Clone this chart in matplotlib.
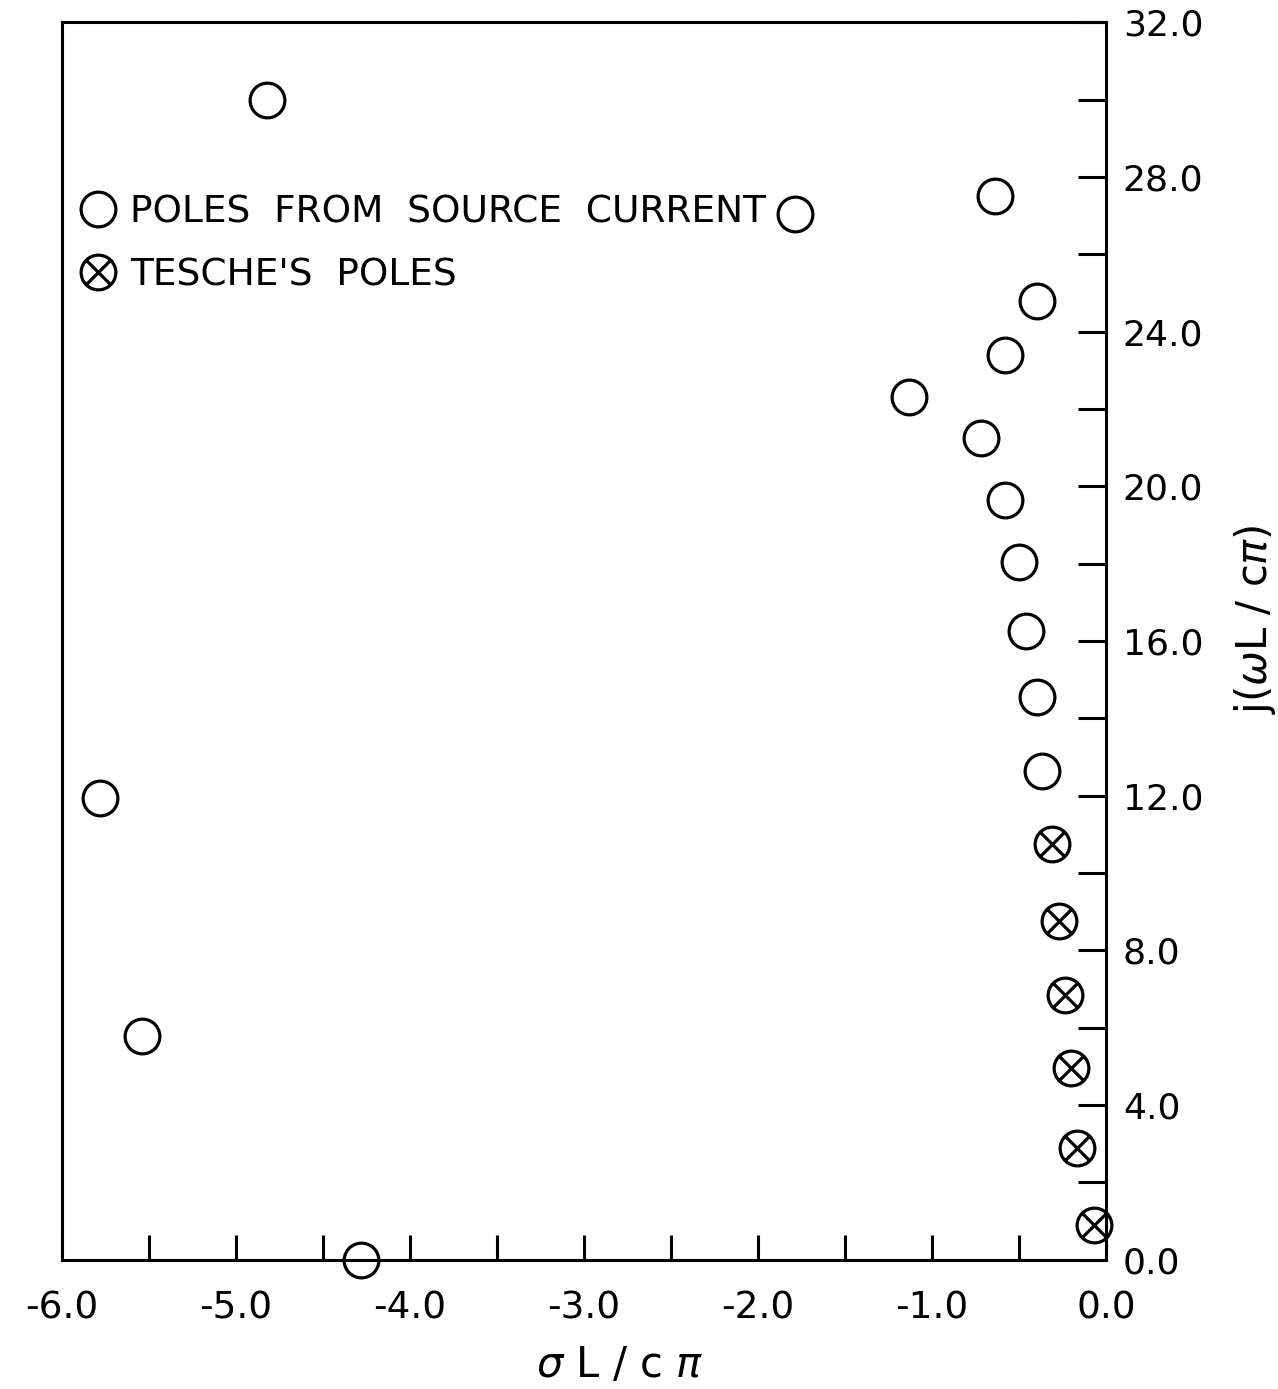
import matplotlib.pyplot as plt
from matplotlib.lines import Line2D
from matplotlib.path import Path

# poles found from the source current (open circles)
SRC_SIGMA = [-4.82, -1.79, -0.64, -0.40, -0.58, -1.13, -0.72, -0.58, -0.50, -0.46,
             -0.40, -0.37, -5.78, -5.54, -4.28]
SRC_OMEGA = [30.0, 27.05, 27.5, 24.8, 23.4, 22.3, 21.25, 19.65, 18.05, 16.25,
             14.55, 12.65, 11.95, 5.8, 0.0]

# Tesche's poles (crossed circles)
TES_SIGMA = [-0.31, -0.27, -0.235, -0.20, -0.165, -0.07]
TES_OMEGA = [10.75, 8.75, 6.85, 4.95, 2.9, 0.9]

X_TICKS = [-6.0, -5.0, -4.0, -3.0, -2.0, -1.0, 0.0]
X_MINOR = [-5.5, -4.5, -3.5, -2.5, -1.5, -0.5]
Y_TICKS = [0, 2, 4, 6, 8, 10, 12, 14, 16, 18, 20, 22, 24, 26, 28, 30, 32]

plt.rcParams["font.family"] = ["DejaVu Sans"]
plt.rcParams["mathtext.fontset"] = "dejavusans"

# circle with an x through it
d = 0.7071
OTIMES = Path.make_compound_path(
    Path.unit_circle(),
    Path([[-d, -d], [d, d]], [Path.MOVETO, Path.LINETO]),
    Path([[-d, d], [d, -d]], [Path.MOVETO, Path.LINETO]),
)

MS = 25
MEW = 2.3

fig = plt.figure(figsize=(12.78, 13.89), dpi=100)
fig.patch.set_facecolor("white")
ax = fig.add_axes([0.0485, 0.093, 0.817, 0.891])

ax.plot(SRC_SIGMA, SRC_OMEGA, linestyle="none", marker="o", ms=MS, mew=MEW,
        mfc="none", mec="black", clip_on=False, zorder=3)
ax.plot(TES_SIGMA, TES_OMEGA, linestyle="none", marker=OTIMES, ms=MS, mew=MEW,
        mfc="none", mec="black", clip_on=False, zorder=3)

ax.set_xlim(-6.0, 0.0)
ax.set_ylim(0.0, 32.0)

for s in ax.spines.values():
    s.set_linewidth(2.2)

# x axis: ticks every 0.5, pointing inward
ax.set_xticks(X_TICKS)
ax.set_xticks(X_MINOR, minor=True)
ax.set_xticklabels([f"{v:.1f}" for v in X_TICKS])
ax.tick_params(axis="x", which="both", direction="in", length=18, width=2.2,
               labelsize=27, pad=22, top=False)

# y axis on the right, ticks every 2, labels every 4
ax.yaxis.tick_right()
ax.set_yticks(Y_TICKS)
ax.set_yticklabels([f"{v:.1f}" if v % 4 == 0 else "" for v in Y_TICKS])
ax.tick_params(axis="y", which="both", direction="in", length=20, width=2.2,
               labelsize=26, pad=12, left=False)

fig.text(0.485, 0.017, r"$\sigma$ L / c $\pi$", fontsize=30, ha="center", va="center")
fig.text(0.982, 0.554, r"j($\omega$L / c$\pi$)", fontsize=30, ha="center", va="center",
         rotation=90)

handles = [
    Line2D([], [], linestyle="none", marker="o", ms=MS, mew=MEW, mfc="none", mec="black"),
    Line2D([], [], linestyle="none", marker=OTIMES, ms=MS, mew=MEW, mfc="none", mec="black"),
]
ax.legend(handles, ["POLES  FROM  SOURCE  CURRENT", "TESCHE'S  POLES"],
          loc="upper left", bbox_to_anchor=(0.017, 0.861), borderaxespad=0,
          borderpad=0, frameon=False, fontsize=27, handlelength=1.0,
          handletextpad=0.35, labelspacing=0.72)

fig.savefig("out.png", dpi=100, facecolor="white")
